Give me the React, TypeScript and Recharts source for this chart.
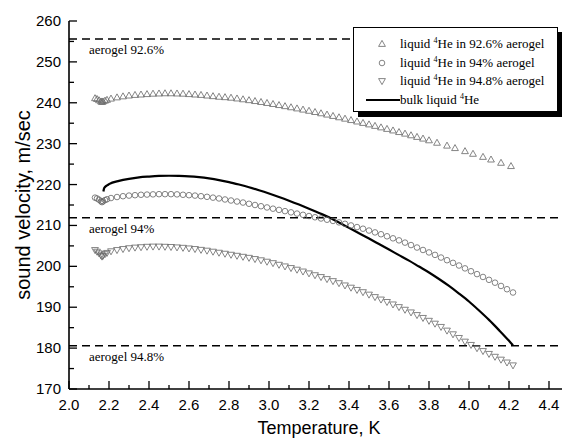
import React from 'react';
import { ComposedChart, Scatter, Line, XAxis, YAxis, ReferenceLine, Legend } from 'recharts';

// temperatures (K) and sound velocities (m/s)
const PRE = [2.13, 2.14, 2.15, 2.16, 2.165, 2.17, 2.18, 2.19];
const GRID = [
  2.21, 2.24, 2.27, 2.30, 2.33, 2.36, 2.39, 2.42, 2.45, 2.48,
  2.51, 2.54, 2.57, 2.60, 2.63, 2.66, 2.69, 2.72, 2.75, 2.78,
  2.81, 2.84, 2.87, 2.90, 2.93, 2.96, 2.99, 3.02, 3.05, 3.08,
  3.11, 3.14, 3.17, 3.20, 3.23, 3.26, 3.29, 3.32, 3.35, 3.38,
  3.41, 3.44, 3.47, 3.50, 3.53, 3.56, 3.59, 3.62, 3.65, 3.68,
  3.71, 3.74, 3.77, 3.80, 3.83, 3.86, 3.89, 3.92, 3.95, 3.98,
  4.01, 4.04, 4.07, 4.10, 4.13, 4.16, 4.19, 4.22,
];

const TEMP_A = [...PRE, ...GRID.slice(0, 54), 3.84, 3.89, 3.93, 3.98, 4.02, 4.07, 4.11, 4.16, 4.21];
const VEL_A = [
  241.1, 240.9, 240.6, 240.3, 240.2, 240.3, 240.5, 240.7,
  241.0, 241.3, 241.55, 241.75, 241.9, 242.0, 242.1, 242.2, 242.25, 242.3,
  242.3, 242.25, 242.2, 242.1, 242.0, 241.9, 241.75, 241.6, 241.45, 241.35,
  241.22, 241.03, 240.83, 240.62, 240.4, 240.17, 239.93, 239.68, 239.42, 239.15,
  238.88, 238.6, 238.31, 238.02, 237.72, 237.41, 237.09, 236.76, 236.43, 236.09,
  235.75, 235.4, 235.05, 234.69, 234.33, 233.96, 233.59, 233.21, 232.82, 232.43,
  232.03, 231.63, 231.22, 230.8,
  230.2, 229.5, 228.9, 228.15, 227.5, 226.75, 226.1, 225.3, 224.5,
];

const TEMP_B = [...PRE, ...GRID];
const VEL_B = [
  216.8, 216.6, 216.3, 215.9, 215.7, 215.9, 216.2, 216.4,
  216.7, 216.95, 217.15, 217.3, 217.4, 217.5, 217.55, 217.6, 217.65, 217.65,
  217.65, 217.6, 217.5, 217.4, 217.3, 217.15, 217.0, 216.8, 216.6, 216.35,
  216.1, 215.85, 215.6, 215.3, 215.0, 214.7, 214.4, 214.1, 213.8, 213.5,
  213.2, 212.9, 212.6, 212.3, 212.0, 211.7, 211.4, 211.1, 210.75, 210.4,
  210.0, 209.6, 209.2, 208.75, 208.3, 207.85, 207.35, 206.85, 206.35, 205.8,
  205.2, 204.6, 204.0, 203.4, 202.8, 202.15, 201.5, 200.85, 200.2, 199.5,
  198.8, 198.1, 197.4, 196.7, 196.0, 195.2, 194.4, 193.6,
];

const TEMP_C = [...PRE, ...GRID];
const VEL_C = [
  204.0, 203.6, 203.2, 202.7, 202.4, 202.6, 203.0, 203.3,
  203.7, 204.0, 204.25, 204.45, 204.6, 204.7, 204.8, 204.85, 204.85, 204.8,
  204.75, 204.65, 204.55, 204.4, 204.25, 204.05, 203.85, 203.6, 203.35, 203.1,
  202.85, 202.6, 202.35, 202.1, 201.8, 201.5, 201.15, 200.8, 200.4, 200.0,
  199.6, 199.2, 198.75, 198.3, 197.85, 197.4, 196.9, 196.4, 195.9, 195.35,
  194.8, 194.25, 193.7, 193.1, 192.5, 191.9, 191.3, 190.7, 190.05, 189.4,
  188.75, 188.1, 187.4, 186.7, 186.0, 185.2, 184.3, 183.4, 182.5, 181.6,
  180.8, 180.0, 179.3, 178.6, 177.9, 177.2, 176.5, 175.8,
];

const TEMP_BULK = [
  2.172, 2.175, 2.18, 2.19, 2.2, 2.25, 2.3, 2.35, 2.4, 2.45, 2.5, 2.55, 2.6, 2.65, 2.7,
  2.75, 2.8, 2.85, 2.9, 2.95, 3.0, 3.05, 3.1, 3.15, 3.2, 3.25, 3.3, 3.35, 3.4, 3.45,
  3.5, 3.55, 3.6, 3.65, 3.7, 3.75, 3.8, 3.85, 3.9, 3.95, 4.0, 4.05, 4.1, 4.15, 4.2, 4.22,
];
const VEL_BULK = [
  218.3, 219.0, 219.4, 219.8, 220.1, 220.9, 221.4, 221.75, 221.95, 222.1, 222.15, 222.1, 222.0, 221.8, 221.5,
  221.1, 220.6, 220.0, 219.35, 218.6, 217.8, 216.95, 216.05, 215.1, 214.1, 213.05, 212.0, 210.7, 209.4, 208.1,
  206.8, 205.45, 204.1, 202.75, 201.4, 199.95, 198.5, 196.9, 195.2, 193.35, 191.4, 189.2, 186.9, 184.4, 181.8, 180.7,
];

// aerogel reference velocities
const AEROGEL_LABELS = ['aerogel 92.6%', 'aerogel 94%', 'aerogel 94.8%'];
const AEROGEL_VEL = [255.6, 211.9, 180.6];

const X_MAJOR = [2.0, 2.2, 2.4, 2.6, 2.8, 3.0, 3.2, 3.4, 3.6, 3.8, 4.0, 4.2, 4.4];
const X_TICKS = [2.0, 2.1, 2.2, 2.3, 2.4, 2.5, 2.6, 2.7, 2.8, 2.9, 3.0, 3.1, 3.2, 3.3, 3.4, 3.5, 3.6, 3.7, 3.8, 3.9, 4.0, 4.1, 4.2, 4.3, 4.4, 4.5];
const Y_MAJOR = [170, 180, 190, 200, 210, 220, 230, 240, 250, 260];
const Y_TICKS = [170, 175, 180, 185, 190, 195, 200, 205, 210, 215, 220, 225, 230, 235, 240, 245, 250, 255, 260];

const zip = (t: number[], v: number[]) => t.map((x, i) => ({ t: x, v: v[i] }));
const dataA = zip(TEMP_A, VEL_A);
const dataB = zip(TEMP_B, VEL_B);
const dataC = zip(TEMP_C, VEL_C);
const dataBulk = zip(TEMP_BULK, VEL_BULK);

const SANS = 'Arial, "Liberation Sans", sans-serif';
const SERIF = '"Liberation Serif", "Times New Roman", serif';
const MARK = '#666';

const triUp = (p: any) => {
  const { cx, cy } = p;
  return <path d={`M${cx},${cy - 3.6}L${cx + 3.4},${cy + 2.4}L${cx - 3.4},${cy + 2.4}Z`} fill="none" stroke={MARK} strokeWidth={0.8} />;
};
const triDown = (p: any) => {
  const { cx, cy } = p;
  return <path d={`M${cx},${cy + 3.6}L${cx + 3.4},${cy - 2.4}L${cx - 3.4},${cy - 2.4}Z`} fill="none" stroke={MARK} strokeWidth={0.8} />;
};
const circ = (p: any) => <circle cx={p.cx} cy={p.cy} r={2.8} fill="none" stroke={MARK} strokeWidth={0.8} />;

function BottomTick(p: any) {
  const { x, y, payload } = p;
  const major = X_MAJOR.includes(payload.value);
  return (
    <g>
      <line x1={x} x2={x} y1={y} y2={y - (major ? 8 : 4)} stroke="#000" strokeWidth={1.3} />
      {major && (
        <text x={x} y={y + 21} textAnchor="middle" fontFamily={SANS} fontSize={15} fill="#000">
          {payload.value.toFixed(1)}
        </text>
      )}
    </g>
  );
}

function TopTick(p: any) {
  const { x, y, payload } = p;
  const major = X_MAJOR.includes(payload.value);
  return <line x1={x} x2={x} y1={y} y2={y + (major ? 7 : 4)} stroke="#000" strokeWidth={1.3} />;
}

function LeftTick(p: any) {
  const { x, y, payload } = p;
  const major = Y_MAJOR.includes(payload.value);
  return (
    <g>
      <line x1={x} x2={x + (major ? 8 : 5)} y1={y} y2={y} stroke="#000" strokeWidth={1.3} />
      {major && (
        <text x={x - 8} y={y + 5} textAnchor="end" fontFamily={SANS} fontSize={15} fill="#000">
          {payload.value}
        </text>
      )}
    </g>
  );
}

const He = ({ pre, post }: { pre: string; post: string }) => (
  <span>
    {pre}
    <span style={{ fontSize: 8, position: 'relative', top: -5 }}>4</span>
    {post}
  </span>
);

const LEGEND_ROWS = [
  { icon: 'up', pre: 'liquid ', post: 'He in 92.6% aerogel' },
  { icon: 'circle', pre: 'liquid ', post: 'He in 94% aerogel' },
  { icon: 'down', pre: 'liquid ', post: 'He in 94.8% aerogel' },
  { icon: 'line', pre: 'bulk liquid ', post: 'He' },
];

function LegendBox() {
  const rowTop = [16, 35, 53, 72];
  return (
    <div
      style={{
        position: 'relative',
        width: 205,
        height: 85,
        boxSizing: 'border-box',
        background: '#fff',
        border: '1px solid #000',
        boxShadow: '5px 5px 0 #000',
        fontFamily: SERIF,
        fontSize: 13,
        color: '#000',
      }}
    >
      {LEGEND_ROWS.map((r, i) => (
        <div key={i} style={{ position: 'absolute', left: 0, top: rowTop[i] - 9, height: 18, width: 205 }}>
          <svg width={46} height={18} style={{ position: 'absolute', left: 0, top: 0 }}>
            {r.icon === 'up' && triUp({ cx: 28, cy: 9 })}
            {r.icon === 'circle' && circ({ cx: 28, cy: 9 })}
            {r.icon === 'down' && triDown({ cx: 28, cy: 9 })}
            {r.icon === 'line' && <line x1={12} x2={46} y1={9} y2={9} stroke="#000" strokeWidth={2} />}
          </svg>
          <div style={{ position: 'absolute', left: 46, top: 0, lineHeight: '18px', whiteSpace: 'nowrap' }}>
            <He pre={r.pre} post={r.post} />
          </div>
        </div>
      ))}
    </div>
  );
}

const aerogelLabel = (text: string) => (props: any) => {
  const vb = props.viewBox;
  return (
    <text x={vb.x + 20} y={vb.y + 15} fontFamily={SERIF} fontSize={13} fill="#000">
      {text}
    </text>
  );
};

export default function App() {
  return (
    <div style={{ position: 'absolute', left: 0, top: 0, width: 562, height: 440, overflow: 'hidden', background: '#fff' }}>
      <ComposedChart width={569} height={440} margin={{ top: 21, right: 0, bottom: 0, left: 0 }}>
        <XAxis
          xAxisId={0}
          dataKey="t"
          type="number"
          domain={[2.0, 4.5]}
          ticks={X_TICKS}
          interval={0}
          allowDataOverflow
          height={51}
          tickSize={0}
          tickMargin={0}
          tick={BottomTick}
          axisLine={{ stroke: '#000', strokeWidth: 1.6 }}
          label={{
            content: (props: any) => (
              <text x={319} y={434} textAnchor="middle" fontFamily={SANS} fontSize={18} fill="#000">
                Temperature, K
              </text>
            ),
          }}
        />
        <XAxis
          xAxisId="top"
          orientation="top"
          dataKey="t"
          type="number"
          domain={[2.0, 4.5]}
          ticks={X_TICKS}
          interval={0}
          allowDataOverflow
          height={0}
          tickSize={0}
          tickMargin={0}
          tick={TopTick}
          axisLine={{ stroke: '#000', strokeWidth: 1.6 }}
        />
        <YAxis
          dataKey="v"
          type="number"
          domain={[170, 260]}
          ticks={Y_TICKS}
          interval={0}
          allowDataOverflow
          width={69}
          tickSize={0}
          tickMargin={0}
          tick={LeftTick}
          axisLine={{ stroke: '#000', strokeWidth: 1.6 }}
          label={{
            content: (props: any) => {
              const vb = props.viewBox;
              const cy = vb.y + vb.height / 2;
              return (
                <text
                  transform={`translate(23, ${cy}) rotate(-90)`}
                  textAnchor="middle"
                  dominantBaseline="central"
                  fontFamily={SANS}
                  fontSize={20}
                  fill="#000"
                >
                  sound velocity, m/sec
                </text>
              );
            },
          }}
        />
        {AEROGEL_VEL.map((v, i) => (
          <ReferenceLine
            key={i}
            y={v}
            stroke="#000"
            strokeWidth={1.5}
            strokeDasharray="8 5"
            label={aerogelLabel(AEROGEL_LABELS[i])}
          />
        ))}
        <Scatter data={dataA} shape={triUp} isAnimationActive={false} />
        <Scatter data={dataB} shape={circ} isAnimationActive={false} />
        <Scatter data={dataC} shape={triDown} isAnimationActive={false} />
        <Line
          data={dataBulk}
          dataKey="v"
          type="monotone"
          dot={false}
          stroke="#000"
          strokeWidth={2.2}
          isAnimationActive={false}
        />
        <Legend
          verticalAlign="middle"
          layout="horizontal"
          align="center"
          content={() => <LegendBox />}
          wrapperStyle={{ left: 353, top: 27, width: 205, height: 85 }}
        />
      </ComposedChart>
    </div>
  );
}
